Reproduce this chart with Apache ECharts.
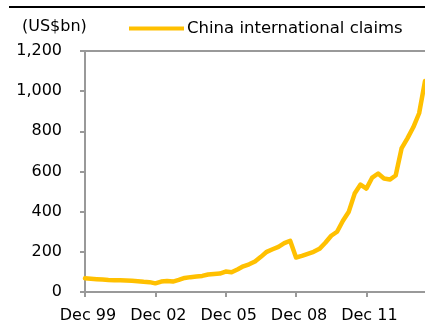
<!DOCTYPE html>
<html>
<head>
<meta charset="utf-8">
<script src="https://cdn.jsdelivr.net/npm/echarts@6/dist/echarts.min.js"></script>
<style>
  html, body { margin: 0; padding: 0; background: #fff; }
  #chart { width: 425px; height: 320px; }
</style>
</head>
<body>
<div id="chart"></div>
<script>
// quarterly, Dec 99 .. Jun 14
const quarters = []
const months = ['Mar', 'Jun', 'Sep', 'Dec']
quarters.push('Dec 99')
for (let y = 0; y <= 14; y++) {
  for (const m of months) {
    if (y === 14 && m === 'Sep') break
    quarters.push(m + ' ' + String(y).padStart(2, '0'))
  }
}

const seriesName = 'China international claims'
const claims = [
  68, 66, 64, 62, 60, 59, 58, 57, 56, 54, 51, 49,
  43, 52, 55, 52, 60, 70, 74, 77, 80, 87, 90, 92,
  102, 98, 112, 128, 138, 152, 175, 200, 213, 225, 243, 255,
  172, 180, 190, 200, 215, 245, 280, 300, 355, 400, 490, 535,
  515, 570, 590, 565, 560, 580, 715, 765, 820, 890, 1050
]

const yTicks = [0, 200, 400, 600, 800, 1000, 1200]

const FONT = 'DejaVu Sans'
const AXIS = '#999999'

const chart = echarts.init(document.getElementById('chart'))

chart.setOption({
  animation: false,
  textStyle: { fontFamily: FONT },
  grid: { left: 85, right: 0, top: 51, bottom: 28, outerBoundsMode: 'none', containLabel: false },
  legend: {
    data: [seriesName],
    left: 129,
    top: 20,
    padding: 0,
    icon: 'rect',
    itemWidth: 55,
    itemHeight: 4,
    textStyle: { fontFamily: FONT, fontSize: 16.5, color: '#000', padding: [0, 0, 0, -2] }
  },
  graphic: {
    elements: [
      // rule under the (cut off) figure title
      {
        type: 'rect',
        z: 10,
        shape: { x: 9, y: 6, width: 416, height: 2 },
        style: { fill: '#000' }
      },
      {
        type: 'text',
        z: 10,
        x: 28,
        y: -15,
        style: { text: 'g', font: 'bold 16px DejaVu Sans', fill: '#000' }
      },
      {
        type: 'text',
        z: 10,
        x: 22,
        y: 19,
        style: { text: '(US$bn)', font: '16px DejaVu Sans', fill: '#000' }
      }
    ]
  },
  xAxis: [
    {
      type: 'category',
      data: quarters,
      boundaryGap: false,
      axisLine: { lineStyle: { color: AXIS, width: 2 } },
      axisTick: { length: 5, interval: 11, lineStyle: { color: AXIS, width: 2 } },
      axisLabel: {
        interval: 11,
        margin: 16,
        padding: [0, 0, 0, 6],
        fontSize: 16,
        color: '#000'
      }
    },
    {
      // plot area top border
      type: 'category',
      data: quarters,
      position: 'top',
      boundaryGap: false,
      axisLine: { lineStyle: { color: AXIS, width: 2 } },
      axisTick: { show: false },
      axisLabel: { show: false }
    }
  ],
  yAxis: {
    type: 'value',
    min: yTicks[0],
    max: yTicks[yTicks.length - 1],
    interval: 200,
    axisLine: { show: true, lineStyle: { color: AXIS, width: 2 } },
    axisTick: { show: true, length: 5, lineStyle: { color: AXIS, width: 2 } },
    splitLine: { show: false },
    axisLabel: {
      margin: 23,
      fontSize: 16,
      color: '#000',
      formatter: v => v.toLocaleString('en-US')
    }
  },
  series: [{
    name: seriesName,
    type: 'line',
    data: claims,
    showSymbol: false,
    symbol: 'none',
    color: '#FFC000',
    lineStyle: { color: '#FFC000', width: 4.5, join: 'round', cap: 'round' }
  }]
})
</script>
</body>
</html>
